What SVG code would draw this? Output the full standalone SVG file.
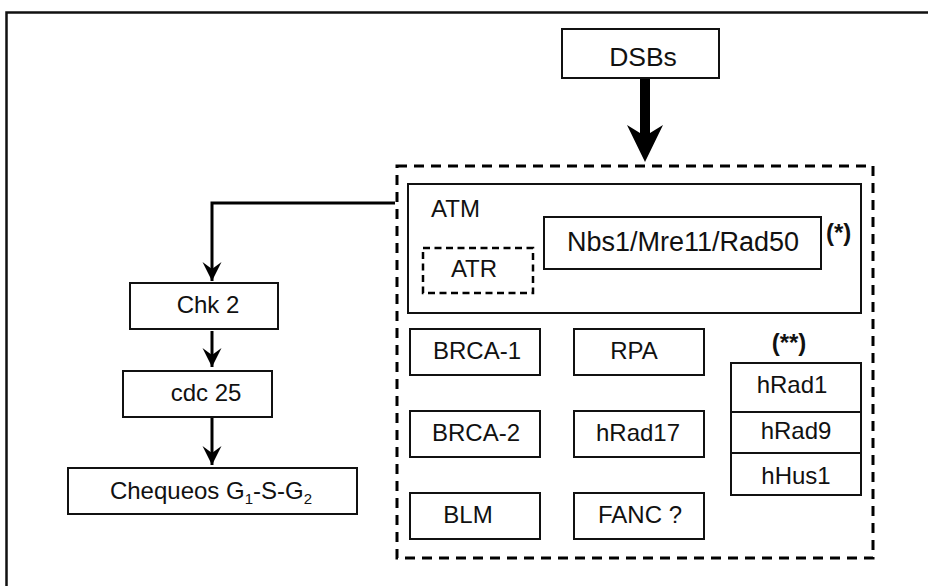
<svg xmlns="http://www.w3.org/2000/svg" width="928" height="586" viewBox="0 0 928 586">
  <style>
    text { font-family: "Liberation Sans", Arial, sans-serif; font-size: 24px; fill: #111; }
    .mid { text-anchor: middle; }
    .bold { font-weight: bold; }
    .box { fill: #fff; stroke: #111; stroke-width: 2; }
    .dash-big { fill: none; stroke: #000; stroke-width: 3; stroke-dasharray: 10 7; }
    .dash-small { fill: none; stroke: #000; stroke-width: 2.5; stroke-dasharray: 7 4.5; }
    .wire { fill: none; stroke: #000; stroke-width: 3; }
  </style>
  <defs>
    <marker id="head" markerUnits="userSpaceOnUse" markerWidth="22" markerHeight="22" viewBox="-20 -11 22 22" refX="0" refY="0" orient="auto">
      <path d="M0,0 L-19,-9.5 L-12,0 L-19,9.5 Z" fill="#000"/>
    </marker>
  </defs>

  <rect width="928" height="586" fill="#fff"/>

  <!-- outer frame -->
  <rect x="6.5" y="12.5" width="940" height="600" fill="none" stroke="#111" stroke-width="2.5"/>

  <!-- connectors -->
  <g id="connectors">
    <path d="M640,79 H650 V133 L663,125 L645,162 L627,125 L640,133 Z" fill="#000"/>
    <path class="wire" d="M395,203 H212 V281" marker-end="url(#head)"/>
    <path class="wire" d="M212,331 V367" marker-end="url(#head)"/>
    <path class="wire" d="M212,418 V465" marker-end="url(#head)"/>
  </g>

  <g id="dsbs">
    <rect class="box" x="562" y="29" width="157" height="49"/>
    <text class="mid" x="643" y="66" style="font-size:26.5px">DSBs</text>
  </g>

  <!-- dashed complex -->
  <g id="complex">
    <rect class="dash-big" x="397" y="166" width="476" height="392"/>
  </g>

  <g id="atm">
    <rect class="box" x="408" y="184" width="453" height="129" stroke-width="2.5"/>
    <text x="431" y="217">ATM</text>
  </g>

  <g id="atr">
    <rect class="dash-small" x="423" y="248" width="110" height="45"/>
    <text class="mid" x="474" y="277">ATR</text>
  </g>

  <g id="mrn">
    <rect class="box" x="544" y="217" width="277" height="52"/>
    <text class="mid" x="683" y="251" style="font-size:27px">Nbs1/Mre11/Rad50</text>
    <text class="bold" x="826" y="241">(*)</text>
  </g>

  <g id="brca1">
    <rect class="box" x="410" y="329" width="130" height="46"/>
    <text class="mid" x="477" y="359">BRCA-1</text>
  </g>
  <g id="rpa">
    <rect class="box" x="574" y="329" width="130" height="46"/>
    <text class="mid" x="634" y="359">RPA</text>
  </g>
  <g id="brca2">
    <rect class="box" x="410" y="411" width="130" height="46"/>
    <text class="mid" x="476" y="441">BRCA-2</text>
  </g>
  <g id="hrad17">
    <rect class="box" x="574" y="411" width="130" height="46"/>
    <text class="mid" x="638" y="441">hRad17</text>
  </g>
  <g id="blm">
    <rect class="box" x="410" y="493" width="130" height="46"/>
    <text class="mid" x="468" y="523">BLM</text>
  </g>
  <g id="fanc">
    <rect class="box" x="574" y="493" width="130" height="46"/>
    <text class="mid" x="640" y="523">FANC ?</text>
  </g>

  <g id="nine-one-one">
    <text class="mid bold" x="789" y="351">(**)</text>
    <rect class="box" x="731" y="363" width="130" height="49"/>
    <text class="mid" x="792" y="393">hRad1</text>
    <rect class="box" x="731" y="412" width="130" height="41"/>
    <text class="mid" x="796" y="439">hRad9</text>
    <rect class="box" x="731" y="453" width="130" height="42"/>
    <text class="mid" x="796" y="484">hHus1</text>
  </g>

  <g id="chk2">
    <rect class="box" x="130" y="283" width="148" height="46"/>
    <text class="mid" x="208" y="313">Chk 2</text>
  </g>
  <g id="cdc25">
    <rect class="box" x="123" y="371" width="149" height="46"/>
    <text class="mid" x="206" y="401">cdc 25</text>
  </g>
  <g id="checkpoints">
    <rect class="box" x="68" y="468" width="289" height="46"/>
    <text class="mid" x="211" y="499">Chequeos G<tspan dy="5" style="font-size:15px">1</tspan><tspan dy="-5">-S-G</tspan><tspan dy="5" style="font-size:15px">2</tspan></text>
  </g>
</svg>
